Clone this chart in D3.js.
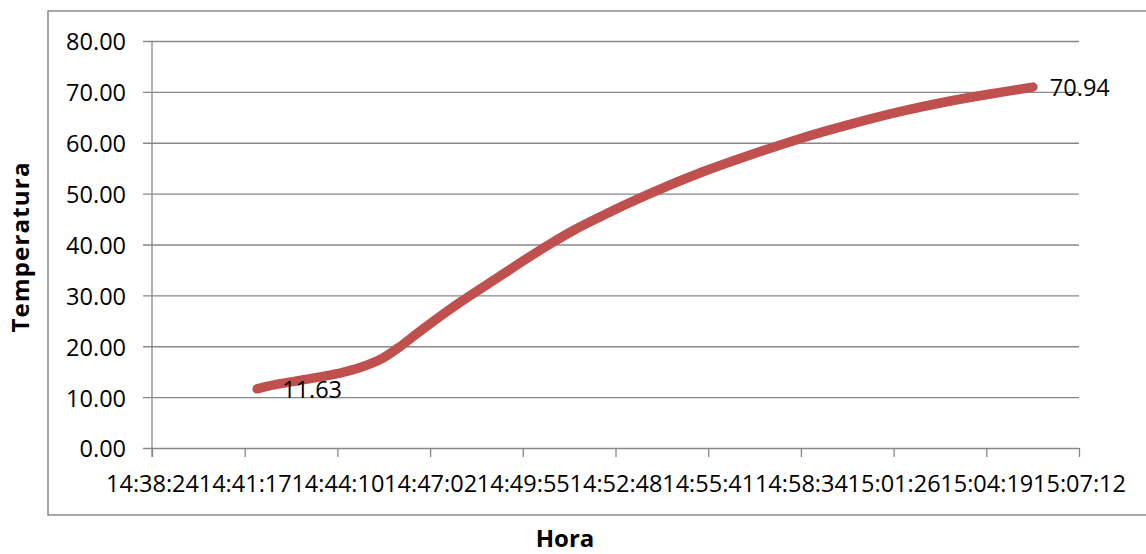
<!DOCTYPE html>
<html>
<head>
<meta charset="utf-8">
<script src="https://cdn.jsdelivr.net/npm/d3@7"></script>
<style>
  html, body { margin: 0; padding: 0; background: #ffffff; }
  svg { display: block; }
  text { font-family: "Open Sans", "Liberation Sans", sans-serif; fill: #000; }
</style>
</head>
<body>
<svg id="chart" width="1146" height="554"></svg>
<script>
// Axis tick labels (time of day) and temperature ticks
const timeTickLabels = ["14:38:24", "14:41:17", "14:44:10", "14:47:02", "14:49:55",
  "14:52:48", "14:55:41", "14:58:34", "15:01:26", "15:04:19", "15:07:12"];
const tempTicks = [0, 10, 20, 30, 40, 50, 60, 70, 80];

// Readings: time of reading and measured temperature
const readingTimes = ["14:41:40", "14:41:58", "14:43:00", "14:44:09", "14:44:52", "14:45:35",
  "14:46:06", "14:46:38", "14:47:40", "14:48:41", "14:49:13", "14:49:59", "14:50:46",
  "14:51:32", "14:52:19", "14:53:06", "14:53:52", "14:55:26", "14:56:59", "14:58:32",
  "15:00:05", "15:01:38", "15:03:12", "15:04:45", "15:05:46"];
const temperatures = [11.63, 12.1, 13.3, 14.6, 15.8, 17.7, 19.9, 22.5, 27.3, 31.6, 33.8,
  37.0, 40.1, 42.9, 45.4, 47.8, 50.0, 54.1, 57.6, 60.8, 63.6, 66.1, 68.2, 69.9, 70.94];

const toSec = s => { const [h, m, sec] = s.split(":").map(Number); return h * 3600 + m * 60 + sec; };

const svg = d3.select("#chart");
const plotLeft = 152, plotRight = 1079, plotTop = 41, plotBottom = 448;

// Chart frame
svg.append("path")
  .attr("d", "M1160,11 H48 V515 H1160")
  .attr("fill", "none").attr("stroke", "#8c8c8c").attr("stroke-width", 1.5);

const t0 = toSec(timeTickLabels[0]);
const step = 172.8; // seconds between axis ticks
const x = d3.scaleLinear().domain([t0, t0 + step * 10]).range([plotLeft, plotRight]);
const y = d3.scaleLinear().domain([0, 80]).range([plotBottom, plotTop]);

const gridColor = "#878787";

// Y axis with horizontal gridlines
const yAxis = svg.append("g").attr("transform", `translate(${plotLeft},0)`)
  .call(d3.axisLeft(y).tickValues(tempTicks).tickSize(9).tickPadding(17)
    .tickFormat(d => d3.format(".2f")(d)));
yAxis.select(".domain").remove();
yAxis.selectAll(".tick line")
  .attr("x1", plotRight - plotLeft).attr("x2", -9)
  .attr("stroke", gridColor).attr("stroke-width", 1.3);
yAxis.selectAll(".tick text")
  .attr("dy", "0.38em").style("font-size", "23.5px");

// X axis ticks and labels
const xAxis = svg.append("g").attr("transform", `translate(0,${plotBottom})`)
  .call(d3.axisBottom(x).tickValues(d3.range(11).map(i => t0 + i * step))
    .tickSize(9).tickFormat((d, i) => timeTickLabels[i]));
xAxis.select(".domain").remove();
xAxis.selectAll(".tick line").attr("stroke", gridColor).attr("stroke-width", 1.3);
xAxis.selectAll(".tick text")
  .attr("y", 43.5).attr("dy", 0).style("font-size", "23.5px");

// Vertical axis line
svg.append("line")
  .attr("x1", plotLeft).attr("x2", plotLeft).attr("y1", plotTop).attr("y2", plotBottom + 9)
  .attr("stroke", gridColor).attr("stroke-width", 1.3);

// Temperature curve
const pts = readingTimes.map((t, i) => [toSec(t), temperatures[i]]);
svg.append("path")
  .datum(pts)
  .attr("d", d3.line().x(d => x(d[0])).y(d => y(d[1])).curve(d3.curveMonotoneX))
  .attr("fill", "none").attr("stroke", "#C0504D").attr("stroke-width", 9.5)
  .attr("stroke-linecap", "round").attr("stroke-linejoin", "round");

// Value labels at first and last readings
const first = pts[0], last = pts[pts.length - 1];
svg.append("text")
  .attr("x", x(first[0]) + 25).attr("y", y(first[1])).attr("dy", "0.38em")
  .style("font-size", "23.5px").text(d3.format(".2f")(first[1]));
svg.append("text")
  .attr("x", x(last[0]) + 17).attr("y", y(last[1])).attr("dy", "0.38em")
  .style("font-size", "23.5px").text(d3.format(".2f")(last[1]));

// Axis titles
svg.append("text")
  .attr("transform", "translate(29,247) rotate(-90)")
  .attr("text-anchor", "middle")
  .style("font-size", "24px").style("font-weight", "bold").style("letter-spacing", "1.2px")
  .text("Temperatura");
svg.append("text")
  .attr("x", 565).attr("y", 547).attr("text-anchor", "middle")
  .style("font-size", "24px").style("font-weight", "bold")
  .text("Hora");
</script>
</body>
</html>
